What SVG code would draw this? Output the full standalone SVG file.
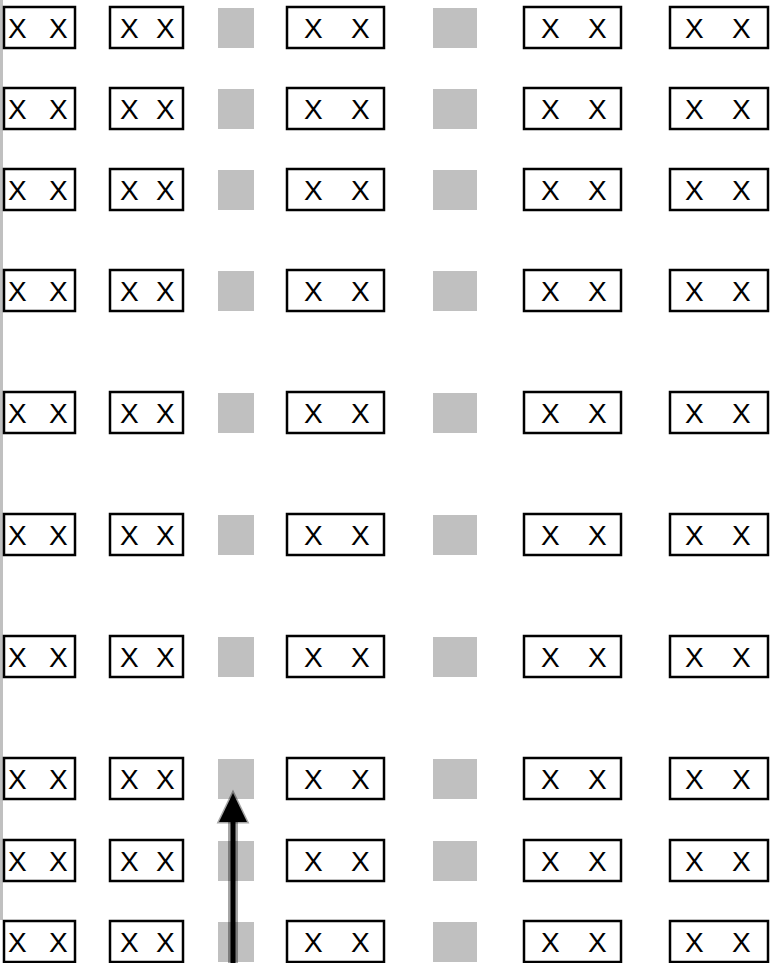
<svg xmlns="http://www.w3.org/2000/svg" width="782" height="963" viewBox="0 0 782 963">
<style>
.b{fill:#fff;stroke:#000;stroke-width:2.5}
.g{fill:#c0c0c0}
.t{font-family:"Liberation Sans",Arial,sans-serif;font-size:28px;fill:#000}
</style>
<defs>
<g id="row">
<rect class="b" x="4" y="0" width="71" height="41"/>
<text class="t" y="31"><tspan x="8">X</tspan> <tspan x="49">X</tspan></text>
<rect class="b" x="110" y="0" width="73" height="41"/>
<text class="t" y="31"><tspan x="120">X</tspan> <tspan x="156">X</tspan></text>
<rect class="g" x="218" y="1" width="36" height="40"/>
<rect class="b" x="287" y="0" width="97" height="41"/>
<text class="t" y="31"><tspan x="304">X</tspan> <tspan x="351">X</tspan></text>
<rect class="g" x="433" y="1" width="44" height="40"/>
<rect class="b" x="524" y="0" width="97" height="41"/>
<text class="t" y="31"><tspan x="541">X</tspan> <tspan x="588">X</tspan></text>
<rect class="b" x="670" y="0" width="98" height="41"/>
<text class="t" y="31"><tspan x="685">X</tspan> <tspan x="732">X</tspan></text>
</g>
</defs>
<rect x="0" y="0" width="3" height="920" fill="#c0c0c0"/>
<g id="row1"><use href="#row" y="7"/></g>
<g id="row2"><use href="#row" y="88"/></g>
<g id="row3"><use href="#row" y="169"/></g>
<g id="row4"><use href="#row" y="270"/></g>
<g id="row5"><use href="#row" y="392"/></g>
<g id="row6"><use href="#row" y="514"/></g>
<g id="row7"><use href="#row" y="636"/></g>
<g id="row8"><use href="#row" y="758"/></g>
<g id="row9"><use href="#row" y="840"/></g>
<g id="row10"><use href="#row" y="921"/></g>
<g id="connectors">
<line x1="233" y1="963" x2="233" y2="818" stroke="#000" stroke-opacity="0.35" stroke-width="10"/>
<line x1="233" y1="963" x2="233" y2="818" stroke="#000" stroke-width="5"/>
<polygon points="233,793 247,822 219,822" fill="#000" stroke="#000" stroke-opacity="0.35" stroke-width="3"/>
</g>
</svg>
